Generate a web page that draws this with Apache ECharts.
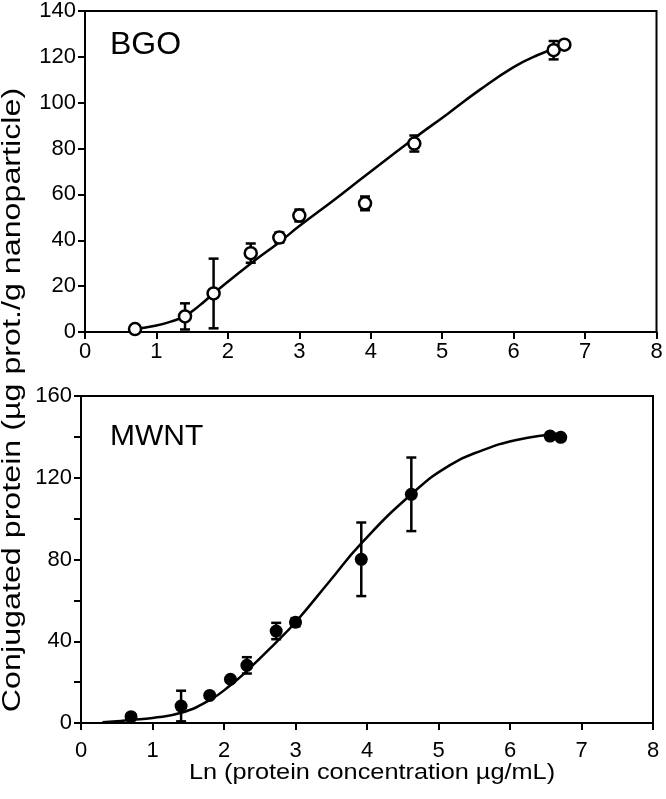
<!DOCTYPE html>
<html>
<head>
<meta charset="utf-8">
<script src="https://cdn.jsdelivr.net/npm/echarts@6/dist/echarts.min.js"></script>
<style>
html,body{margin:0;padding:0;background:#fff;}
#chart{width:666px;height:799px;}
</style>
</head>
<body>
<div id="chart"></div>
<script>
// ---- BGO (top panel) ----
const bgoX   = [0.70, 1.40, 1.80, 2.32, 2.72, 3.00, 3.92, 4.61, 6.56, 6.71];
const bgoY   = [1.3, 6.8, 16.8, 34.4, 41.2, 50.8, 56.1, 82.2, 122.9, 125.3];
const bgoErr = [0, 5.7, 15.2, 4.2, 2.2, 2.6, 3.0, 3.5, 4.0, 0];
const bgoFitX = [0.70, 1.0, 1.2, 1.4, 1.6, 1.8, 2.33, 2.73, 3.0, 3.5, 3.9, 4.6, 5.07, 5.53, 6.0, 6.33, 6.72];
const bgoFitY = [1.3, 2.8, 4.5, 7.0, 11.5, 16.8, 30.1, 39.4, 46.2, 57.9, 67.6, 84.3, 95.0, 105.7, 115.5, 120.7, 125.3];

// ---- MWNT (bottom panel) ----
const mwntX   = [0.70, 1.40, 1.80, 2.09, 2.32, 2.73, 3.00, 3.92, 4.62, 6.56, 6.71];
const mwntY   = [3.1, 8.3, 13.5, 21.4, 28.2, 45.0, 49.3, 80.1, 111.9, 140.4, 139.8];
const mwntErr = [0, 7.5, 0, 0, 4.0, 4.0, 2.0, 18.0, 18.0, 0, 0];
const mwntFitX = [0.3, 0.5, 0.7, 1.0, 1.4, 1.8, 2.09, 2.32, 2.73, 3.0, 3.48, 3.92, 4.62, 5.16, 5.63, 6.09, 6.56, 6.71];
const mwntFitY = [0.4, 0.8, 1.5, 2.5, 5.0, 11.2, 18.5, 25.5, 39.5, 49.3, 69.5, 87.9, 111.9, 126.2, 133.6, 138.5, 141.2, 141.6];

// ---- axes ----
const xTicks = [0, 1, 2, 3, 4, 5, 6, 7, 8];
const bgoYTicks = [0, 20, 40, 60, 80, 100, 120, 140];
const mwntYTicks = [0, 40, 80, 120, 160];

const FONT = '"Liberation Sans", Arial, Helvetica, sans-serif';

function zip(a, b) { return a.map((v, i) => [v, b[i]]); }
function errData(xs, ys, es) {
  const out = [];
  xs.forEach((x, i) => { if (es[i] > 0) out.push([x, ys[i] - es[i], ys[i] + es[i]]); });
  return out;
}
function renderErr(params, api) {
  const x = api.value(0);
  const lo = api.coord([x, api.value(1)]);
  const hi = api.coord([x, api.value(2)]);
  const hw = 5;
  const st = { stroke: '#000', lineWidth: 2.5 };
  return {
    type: 'group',
    children: [
      { type: 'line', shape: { x1: lo[0], y1: lo[1], x2: hi[0], y2: hi[1] }, style: st },
      { type: 'line', shape: { x1: hi[0] - hw, y1: hi[1], x2: hi[0] + hw, y2: hi[1] }, style: st },
      { type: 'line', shape: { x1: lo[0] - hw, y1: lo[1], x2: lo[0] + hw, y2: lo[1] }, style: st }
    ]
  };
}

function xAxisCfg(gi, margin) {
  return {
    type: 'value', gridIndex: gi, min: xTicks[0], max: xTicks[xTicks.length - 1], interval: 1,
    axisLine: { show: true, onZero: false, lineStyle: { color: '#000', width: 2 } },
    axisTick: { show: true, inside: false, length: 7, lineStyle: { color: '#000', width: 2 } },
    axisLabel: { color: '#000', fontSize: 22, fontFamily: FONT, margin: margin },
    splitLine: { show: false }
  };
}
function yAxisCfg(gi, ticks, minor) {
  const cfg = {
    type: 'value', gridIndex: gi, min: ticks[0], max: ticks[ticks.length - 1], interval: ticks[1] - ticks[0],
    axisLine: { show: true, onZero: false, lineStyle: { color: '#000', width: 2 } },
    axisTick: { show: true, inside: false, length: 7, lineStyle: { color: '#000', width: 2 } },
    axisLabel: { color: '#000', fontSize: 22, fontFamily: FONT, margin: 9 },
    splitLine: { show: false }
  };
  if (minor) {
    cfg.minorTick = { show: true, splitNumber: 2, length: 7, lineStyle: { color: '#000', width: 2 } };
    cfg.minorSplitLine = { show: false };
  }
  return cfg;
}

const chart = echarts.init(document.getElementById('chart'), null, { renderer: 'canvas' });
chart.setOption({
  animation: false,
  backgroundColor: '#fff',
  grid: [
    { left: 85, right: 9.5, top: 5, height: 327, show: true, borderColor: '#000', borderWidth: 2, backgroundColor: 'transparent' },
    { left: 81, right: 13, top: 396, height: 327, show: true, borderColor: '#000', borderWidth: 2, backgroundColor: 'transparent' }
  ],
  xAxis: [xAxisCfg(0, 9), xAxisCfg(1, 17)],
  yAxis: [yAxisCfg(0, bgoYTicks, false), yAxisCfg(1, mwntYTicks, true)],
  series: [
    { type: 'line', xAxisIndex: 0, yAxisIndex: 0, data: zip(bgoFitX, bgoFitY), smooth: 0.5, showSymbol: false, symbol: 'none',
      lineStyle: { color: '#000', width: 2.5 }, z: 2 },
    { type: 'custom', xAxisIndex: 0, yAxisIndex: 0, data: errData(bgoX, bgoY, bgoErr), renderItem: renderErr, z: 3 },
    { type: 'scatter', xAxisIndex: 0, yAxisIndex: 0, data: zip(bgoX, bgoY), symbol: 'circle', symbolSize: 12,
      itemStyle: { color: '#fff', borderColor: '#000', borderWidth: 2.5, opacity: 1 }, z: 4 },

    { type: 'line', xAxisIndex: 1, yAxisIndex: 1, data: zip(mwntFitX, mwntFitY), smooth: 0.5, showSymbol: false, symbol: 'none',
      lineStyle: { color: '#000', width: 2.5 }, z: 2 },
    { type: 'custom', xAxisIndex: 1, yAxisIndex: 1, data: errData(mwntX, mwntY, mwntErr), renderItem: renderErr, z: 3 },
    { type: 'scatter', xAxisIndex: 1, yAxisIndex: 1, data: zip(mwntX, mwntY), symbol: 'circle', symbolSize: 13,
      itemStyle: { color: '#000', opacity: 1 }, z: 4 }
  ],
  graphic: [
    { type: 'text', x: 110, y: 45, z: 10, style: { text: 'BGO', fontSize: 32, fontFamily: FONT, fill: '#000', align: 'left', verticalAlign: 'middle' } },
    { type: 'text', x: 110, y: 437, z: 10, style: { text: 'MWNT', fontSize: 30, fontFamily: FONT, fill: '#000', align: 'left', verticalAlign: 'middle' } },
    { type: 'text', x: 372, y: 773, scaleX: 1.15, z: 10, style: { text: 'Ln (protein concentration µg/mL)', fontSize: 22, fontFamily: FONT, fill: '#000', align: 'center', verticalAlign: 'middle' } },
    { type: 'text', x: 13, y: 400, rotation: Math.PI / 2, scaleX: 1.24, z: 10, style: { text: 'Conjugated protein (µg prot./g nanoparticle)', fontSize: 26, fontFamily: FONT, fill: '#000', align: 'center', verticalAlign: 'middle' } }
  ]
});
</script>
</body>
</html>
